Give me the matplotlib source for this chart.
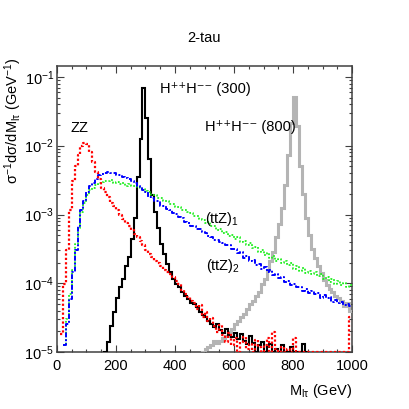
#!/usr/bin/env python3
"""
Normalised M_ltau distributions for the 2-tau channel.

Step histograms (10 GeV bins) of ZZ, ttZ and H++H-- signal shapes,
log scale, ROOT-like frame with inward ticks on all sides.
"""

import numpy as np
import matplotlib
matplotlib.use('Agg')
import matplotlib.pyplot as plt
from matplotlib.ticker import MultipleLocator, LogLocator, NullFormatter, FuncFormatter

plt.rcParams['font.family'] = ['Liberation Sans', 'DejaVu Sans']
plt.rcParams['mathtext.fontset'] = 'custom'
plt.rcParams['mathtext.rm'] = 'Liberation Sans'
plt.rcParams['mathtext.it'] = 'Liberation Sans'
plt.rcParams['mathtext.bf'] = 'Liberation Sans:bold'

# Bin edges of the histograms (GeV)
bin_edges = np.arange(0, 1001, 10)

nan = np.nan

# log10 of bin contents, one value per 10 GeV bin (0-10, 10-20, ..., 990-1000)
zz_log = [
    nan, -4.74, -4.01, -3.51, -2.93, -2.52, -2.29, -2.13, -2.00, -1.96,
    -1.97, -2.09, -2.23, -2.38, -2.49, -2.61, -2.68, -2.75, -2.83, -2.87,
    -2.94, -3.01, -3.07, -3.12, -3.16, -3.22, -3.28, -3.33, -3.39, -3.45,
    -3.51, -3.58, -3.62, -3.67, -3.70, -3.75, -3.80, -3.83, -3.86, -3.91,
    -3.97, -4.01, -4.10, -4.16, -4.20, -4.26, -4.28, -4.38, -4.32, -4.49,
    -4.41, -4.55, -4.50, -4.62, -4.70, -4.60, -4.75, -4.85, -4.72, -4.90,
    -4.80, -5.30, -4.85, -4.78, -4.95, -4.88, -5.30, -4.82, -4.92, -5.30,
    -4.90, -4.80, -5.30, -4.70, -4.95, -5.30, -4.93, -5.30, -4.95, -5.30,
    -4.80, -5.30, -5.30, -5.30, -5.30, -5.30, -5.30, -5.30, -5.30, -5.30,
    -5.30, -5.30, -5.30, -5.30, -5.30, -5.30, -5.30, -5.30, -5.30, -4.49,
]

ttz1_log = [
    nan, nan, -4.90, -4.52, -4.16, -3.80, -3.43, -3.19, -2.97, -2.83,
    -2.72, -2.65, -2.61, -2.57, -2.54, -2.53, -2.51, -2.52, -2.50, -2.54,
    -2.53, -2.56, -2.54, -2.58, -2.56, -2.59, -2.58, -2.60, -2.61, -2.63,
    -2.66, -2.67, -2.71, -2.71, -2.76, -2.76, -2.81, -2.80, -2.85, -2.85,
    -2.89, -2.89, -2.93, -2.93, -2.97, -2.98, -3.02, -3.02, -3.07, -3.08,
    -3.13, -3.11, -3.17, -3.17, -3.22, -3.21, -3.27, -3.26, -3.31, -3.30,
    -3.35, -3.33, -3.40, -3.39, -3.45, -3.42, -3.48, -3.47, -3.54, -3.52,
    -3.59, -3.56, -3.63, -3.60, -3.67, -3.65, -3.70, -3.67, -3.73, -3.71,
    -3.79, -3.75, -3.82, -3.78, -3.85, -3.82, -3.86, -3.84, -3.90, -3.87,
    -3.93, -3.91, -3.98, -3.94, -4.01, -3.97, -4.03, -4.00, -4.06, -4.02,
]

ttz2_log = [
    nan, nan, -4.90, -4.59, -4.23, -3.83, -3.51, -3.17, -2.93, -2.80,
    -2.68, -2.59, -2.54, -2.48, -2.43, -2.41, -2.39, -2.38, -2.39, -2.40,
    -2.42, -2.43, -2.45, -2.47, -2.49, -2.52, -2.54, -2.58, -2.60, -2.64,
    -2.67, -2.74, -2.76, -2.81, -2.80, -2.87, -2.87, -2.92, -2.93, -2.98,
    -2.99, -3.04, -3.05, -3.11, -3.12, -3.17, -3.16, -3.21, -3.21, -3.26,
    -3.27, -3.31, -3.32, -3.37, -3.37, -3.40, -3.41, -3.44, -3.45, -3.50,
    -3.50, -3.56, -3.55, -3.63, -3.60, -3.68, -3.66, -3.73, -3.72, -3.79,
    -3.76, -3.83, -3.81, -3.88, -3.86, -3.92, -3.91, -3.98, -3.97, -4.02,
    -4.01, -4.06, -4.05, -4.11, -4.08, -4.14, -4.11, -4.16, -4.14, -4.21,
    -4.17, -4.22, -4.20, -4.27, -4.24, -4.28, -4.27, -4.31, -4.30, -4.33,
]

h300_log = [
    nan, nan, nan, nan, nan, nan, nan, nan, nan, nan,
    nan, nan, nan, nan, nan, nan, -5.30, -4.85, -4.62, -4.42,
    -4.22, -4.05, -3.93, -3.75, -3.62, -3.35, -3.05, -2.45, -1.90, -1.16,
    -1.60, -2.20, -2.71, -2.97, -3.19, -3.43, -3.58, -3.72, -3.84, -3.93,
    -4.01, -4.06, -4.12, -4.19, -4.23, -4.28, -4.30, -4.35, -4.41, -4.46,
    -4.49, -4.55, -4.59, -4.64, -4.59, -4.68, -4.72, -4.67, -4.75, -4.78,
    -4.72, -4.81, -4.74, -4.84, -4.88, -4.77, -4.87, -5.30, -4.90, -4.85,
    -5.30, -4.92, -4.88, -5.30, -4.95, -5.30, -4.90, -5.30, -5.30, -4.93,
    -5.30, -5.30, -5.30, -4.88, -5.30, nan, nan, nan, nan, nan,
    nan, nan, nan, nan, nan, nan, nan, nan, nan, nan,
]

h800_log = [
    nan, nan, nan, nan, nan, nan, nan, nan, nan, nan,
    nan, nan, nan, nan, nan, nan, nan, nan, nan, nan,
    nan, nan, nan, nan, nan, nan, nan, nan, nan, nan,
    nan, nan, nan, nan, nan, nan, nan, nan, nan, nan,
    nan, nan, nan, nan, nan, nan, nan, nan, nan, -5.30,
    -4.96, -4.93, -4.90, -4.84, -4.87, -4.84, -4.80, -4.77, -4.71, -4.67,
    -4.59, -4.55, -4.49, -4.45, -4.38, -4.30, -4.26, -4.19, -4.12, -4.01,
    -3.93, -3.80, -3.68, -3.54, -3.33, -3.14, -2.90, -2.57, -2.13, -1.67,
    -1.29, -1.72, -2.30, -2.70, -3.05, -3.30, -3.50, -3.63, -3.75, -3.85,
    -3.95, -4.02, -4.08, -4.13, -4.18, -4.22, -4.25, -4.33, -4.28, -4.40,
]

COLORS = {
    'zz': '#ff0000',
    'ttz1': '#22ee22',
    'ttz2': '#0000ff',
    'h300': '#000000',
    'h800': '#b4b4b4',
    'frame': '#404040',
}

Y_MIN = 1e-5
Y_MAX = 10 ** -0.84
FS = 10.5


def step_xy(edges, log_vals):
    """Turn bin edges + log10 contents into a step outline (NaN = empty bin)."""
    vals = 10.0 ** np.asarray(log_vals, dtype=float)
    vals = np.maximum(vals, Y_MIN)  # NaN stays NaN, tiny bins sit on the frame
    x = np.repeat(edges, 2)[1:-1]
    y = np.repeat(vals, 2)
    return x, y


def decade_label(v, pos):
    return r'10$^{\mathregular{%d}}$' % int(round(np.log10(v)))


def create_plot():
    fig = plt.figure(figsize=(4.09, 4.09), dpi=100, facecolor='white')
    ax = fig.add_axes([0.139, 0.139, 0.722, 0.700])

    series = [
        (h800_log, COLORS['h800'], '-', 2.2),
        (h300_log, COLORS['h300'], '-', 1.5),
        (ttz1_log, COLORS['ttz1'], (0, (1, 1)), 1.3),
        (ttz2_log, COLORS['ttz2'], (0, (2.5, 1, 1, 1)), 1.4),
        (zz_log, COLORS['zz'], (0, (1, 1)), 1.6),
    ]
    for vals, color, ls, lw in series:
        x, y = step_xy(bin_edges, vals)
        ax.plot(x, y, color=color, linestyle=ls, linewidth=lw,
                solid_joinstyle='miter', zorder=3)

    ax.set_yscale('log')
    ax.set_xlim(0, 1000)
    ax.set_ylim(Y_MIN, Y_MAX)

    ax.xaxis.set_major_locator(MultipleLocator(200))
    ax.xaxis.set_minor_locator(MultipleLocator(50))
    ax.yaxis.set_major_locator(LogLocator(base=10, numticks=10))
    ax.yaxis.set_minor_locator(LogLocator(base=10, subs=np.arange(2, 10), numticks=10))
    ax.yaxis.set_major_formatter(FuncFormatter(decade_label))
    ax.yaxis.set_minor_formatter(NullFormatter())

    ax.tick_params(which='both', direction='in', top=True, right=True,
                   color=COLORS['frame'], labelsize=FS)
    ax.tick_params(which='major', length=5, width=0.8)
    ax.tick_params(which='minor', length=2.5, width=0.8)
    ax.tick_params(axis='x', which='major', pad=5)
    ax.tick_params(axis='y', which='major', pad=2)
    for sp in ax.spines.values():
        sp.set_color(COLORS['frame'])
        sp.set_linewidth(1.1)

    # Axis titles, ROOT style (aligned to the end of the axes)
    ax.text(1.0, -0.105, r'M$_{\mathrm{l\tau}}$ (GeV)', transform=ax.transAxes,
            ha='right', va='top', fontsize=FS)
    ax.text(-0.148, 1.03, r'$\sigma^{-1}$d$\sigma$/dM$_{\mathrm{l\tau}}$ (GeV$^{-1}$)',
            transform=ax.transAxes, rotation=90, ha='center', va='top', fontsize=FS)

    fig.text(0.5, 1 - 38 / 409, '2-tau', ha='center', va='center', fontsize=FS)

    # Curve labels
    ax.text(45, 10 ** -1.80, 'ZZ', fontsize=FS, va='baseline')
    ax.text(349, 10 ** -1.23, 'H\u207a\u207aH\u207b\u207b (300)', fontsize=FS, va='baseline')
    ax.text(502, 10 ** -1.78, 'H\u207a\u207aH\u207b\u207b (800)', fontsize=FS, va='baseline')
    ax.text(502, 10 ** -3.12, r'(ttZ)$_1$', fontsize=FS, va='baseline')
    ax.text(505, 10 ** -3.81, r'(ttZ)$_2$', fontsize=FS, va='baseline')

    return fig


def main():
    fig = create_plot()
    fig.savefig('out.png', dpi=100, facecolor='white')
    plt.close(fig)


if __name__ == '__main__':
    main()
